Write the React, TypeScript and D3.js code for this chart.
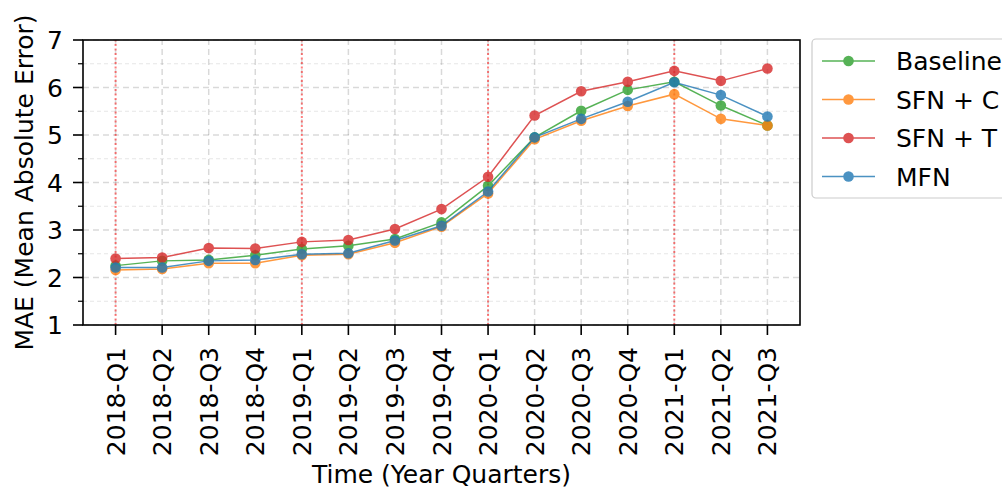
import React from "react";
import * as d3 from "d3";

const quarters = [
  "2018-Q1", "2018-Q2", "2018-Q3", "2018-Q4",
  "2019-Q1", "2019-Q2", "2019-Q3", "2019-Q4",
  "2020-Q1", "2020-Q2", "2020-Q3", "2020-Q4",
  "2021-Q1", "2021-Q2", "2021-Q3",
];
const baseline = [2.25, 2.35, 2.37, 2.47, 2.6, 2.67, 2.81, 3.16, 3.93, 4.95, 5.51, 5.95, 6.12, 5.62, 5.2];
const sfnC = [2.16, 2.18, 2.3, 2.3, 2.47, 2.49, 2.73, 3.07, 3.77, 4.91, 5.3, 5.61, 5.86, 5.34, 5.2];
const sfnT = [2.4, 2.42, 2.62, 2.61, 2.75, 2.79, 3.02, 3.44, 4.12, 5.41, 5.92, 6.12, 6.35, 6.14, 6.4];
const mfn = [2.21, 2.21, 2.35, 2.37, 2.49, 2.51, 2.78, 3.09, 3.81, 4.95, 5.34, 5.7, 6.11, 5.84, 5.39];
const seriesNames = ["Baseline", "SFN + C", "SFN + T", "MFN"];
const seriesColors = ["#2ca02c", "#ff7f0e", "#d62728", "#1f77b4"];
const yTicks = [1, 2, 3, 4, 5, 6, 7];
const yMinor = [1.5, 2.5, 3.5, 4.5, 5.5, 6.5];
const yearStarts = ["2018-Q1", "2019-Q1", "2020-Q1", "2021-Q1"];

const width = 1002;
const height = 489;
const margin = { top: 40, right: 202, bottom: 164, left: 83 };
const font = "'DejaVu Sans', sans-serif";
const fs = 25;

export default function App() {
  const seriesValues = [baseline, sfnC, sfnT, mfn];
  const x = d3
    .scaleLinear()
    .domain([-0.7, quarters.length - 1 + 0.7])
    .range([margin.left, width - margin.right]);
  const y = d3
    .scaleLinear()
    .domain([1, 7])
    .range([height - margin.bottom, margin.top]);
  const line = d3
    .line<number>()
    .x((d, i) => x(i))
    .y((d) => y(d));

  const x0 = margin.left;
  const x1 = width - margin.right;
  const y0 = height - margin.bottom;
  const y1 = margin.top;

  return (
    <svg
      width={width}
      height={height}
      style={{ position: "absolute", left: 0, top: 0, background: "#fff" }}
      fontFamily={font}
    >
      {/* minor grid */}
      {yMinor.map((t) => (
        <line key={"m" + t} x1={x0} x2={x1} y1={y(t)} y2={y(t)} stroke="#000" strokeOpacity={0.1} strokeWidth={1} strokeDasharray="4,3" />
      ))}
      {/* major grid */}
      {yTicks.map((t) => (
        <line key={"g" + t} x1={x0} x2={x1} y1={y(t)} y2={y(t)} stroke="#000" strokeOpacity={0.15} strokeWidth={1.5} strokeDasharray="6,4" />
      ))}
      {quarters.map((q, i) => (
        <line key={"xg" + q} x1={x(i)} x2={x(i)} y1={y0} y2={y1} stroke="#000" strokeOpacity={0.15} strokeWidth={1.5} strokeDasharray="6,4" />
      ))}
      {/* year markers */}
      {yearStarts.map((q) => {
        const i = quarters.indexOf(q);
        return (
          <line key={"yr" + q} x1={x(i)} x2={x(i)} y1={y0} y2={y1} stroke="#ff0000" strokeOpacity={0.5} strokeWidth={2} strokeDasharray="2,2.5" />
        );
      })}
      {/* series */}
      {seriesValues.map((vals, s) => (
        <g key={seriesNames[s]} opacity={0.8}>
          <path d={line(vals) || ""} fill="none" stroke={seriesColors[s]} strokeWidth={1.5} />
          {vals.map((v, i) => (
            <circle key={i} cx={x(i)} cy={y(v)} r={5.3} fill={seriesColors[s]} />
          ))}
        </g>
      ))}
      {/* frame */}
      <rect x={x0} y={y1} width={x1 - x0} height={y0 - y1} fill="none" stroke="#000" strokeWidth={1.6} />
      {/* y ticks */}
      {yTicks.map((t) => (
        <g key={"yt" + t}>
          <line x1={x0 - 10} x2={x0} y1={y(t)} y2={y(t)} stroke="#000" strokeWidth={1.6} />
          <text x={x0 - 20} y={y(t)} dy="0.36em" textAnchor="end" fontSize={fs}>
            {t}
          </text>
        </g>
      ))}
      {yMinor.map((t) => (
        <line key={"ym" + t} x1={x0 - 5} x2={x0} y1={y(t)} y2={y(t)} stroke="#000" strokeWidth={1.2} />
      ))}
      {/* x ticks */}
      {quarters.map((q, i) => (
        <g key={"xt" + q}>
          <line x1={x(i)} x2={x(i)} y1={y0} y2={y0 + 10} stroke="#000" strokeWidth={1.6} />
          <text
            transform={`translate(${x(i)},${y0 + 22}) rotate(-90)`}
            dy="0.36em"
            textAnchor="end"
            fontSize={fs}
          >
            {q}
          </text>
        </g>
      ))}
      {/* axis labels */}
      <text x={(x0 + x1) / 2} y={483} textAnchor="middle" fontSize={fs}>
        Time (Year Quarters)
      </text>
      <text transform={`translate(33,${(y0 + y1) / 2}) rotate(-90)`} textAnchor="middle" fontSize={fs}>
        MAE (Mean Absolute Error)
      </text>
      {/* legend */}
      <rect x={812} y={39} width={220} height={159} rx={4} fill="#fff" fillOpacity={0.8} stroke="#ccc" strokeWidth={1.2} />
      {seriesNames.map((n, s) => {
        const ly = 61 + s * 38.5;
        return (
          <g key={"lg" + n}>
            <g opacity={0.8}>
              <line x1={822} x2={875} y1={ly} y2={ly} stroke={seriesColors[s]} strokeWidth={1.5} />
              <circle cx={848.5} cy={ly} r={5.3} fill={seriesColors[s]} />
            </g>
            <text x={896} y={ly} dy="0.36em" fontSize={fs}>
              {n}
            </text>
          </g>
        );
      })}
    </svg>
  );
}
